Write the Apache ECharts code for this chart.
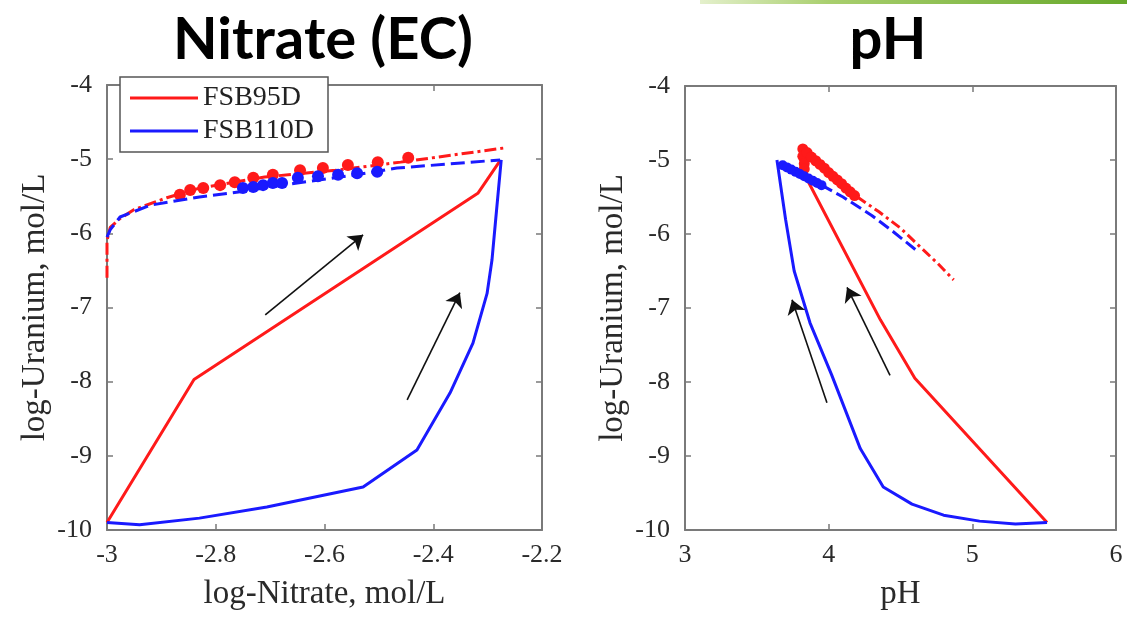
<!DOCTYPE html>
<html>
<head>
<meta charset="utf-8">
<script src="https://cdn.jsdelivr.net/npm/echarts@6/dist/echarts.min.js"></script>
<style>
html,body{margin:0;padding:0;background:#fff;}
#chart{width:1127px;height:618px;}
</style>
</head>
<body>
<div id="chart"></div>
<script>
// ---------- Tick labels ----------
const uraniumTicks = [-10, -9, -8, -7, -6, -5, -4];
const nitrateTicks = [-3, -2.8, -2.6, -2.4, -2.2];
const phTicks = [3, 4, 5, 6];

// ---------- Panel 1: Nitrate (EC) ----------
const nitRedLoopX = [-3.0, -2.84, -2.318, -2.277];
const nitRedLoopY = [-9.9, -7.97, -5.46, -5.02];
const nitBlueLoopX = [-3.0, -2.94, -2.83, -2.706, -2.529, -2.43, -2.369, -2.327, -2.301, -2.292, -2.285, -2.275];
const nitBlueLoopY = [-9.9, -9.93, -9.84, -9.69, -9.42, -8.92, -8.15, -7.48, -6.81, -6.36, -5.8, -5.01];
const nitRedSimX = [-3.0, -3.0, -2.994, -2.976, -2.95, -2.89, -2.83, -2.71, -2.58, -2.46, -2.39, -2.27];
const nitRedSimY = [-6.6, -6.1, -5.92, -5.8, -5.68, -5.52, -5.39, -5.24, -5.15, -5.04, -4.97, -4.85];
const nitBlueSimX = [-3.0, -2.994, -2.976, -2.92, -2.83, -2.755, -2.65, -2.55, -2.467, -2.277];
const nitBlueSimY = [-6.05, -5.95, -5.78, -5.62, -5.51, -5.44, -5.32, -5.22, -5.12, -5.01];
const nitRedObsX = [-2.866, -2.847, -2.823, -2.792, -2.765, -2.731, -2.695, -2.645, -2.603, -2.557, -2.502, -2.446];
const nitRedObsY = [-5.48, -5.415, -5.39, -5.35, -5.31, -5.25, -5.21, -5.15, -5.12, -5.08, -5.04, -4.98];
const nitBlueObsX = [-2.75, -2.731, -2.713, -2.695, -2.678, -2.649, -2.612, -2.575, -2.54, -2.503];
const nitBlueObsY = [-5.39, -5.375, -5.35, -5.32, -5.32, -5.25, -5.23, -5.21, -5.19, -5.17];
const nitArrows = [
  [[-2.709, -7.10], [-2.529, -6.02]],
  [[-2.448, -8.245], [-2.351, -6.80]]
];

// ---------- Panel 2: pH ----------
const phRedLoopX = [3.86, 4.36, 4.60, 5.52];
const phRedLoopY = [-5.3, -7.16, -7.95, -9.9];
const phBlueLoopX = [3.64, 3.70, 3.76, 3.87, 4.02, 4.22, 4.38, 4.58, 4.80, 5.05, 5.30, 5.52];
const phBlueLoopY = [-5.0, -5.8, -6.5, -7.2, -7.9, -8.9, -9.42, -9.65, -9.8, -9.88, -9.92, -9.9];
const phRedObsX = [3.82, 3.82, 3.83, 3.83, 3.85, 3.88, 3.91, 3.94, 3.97, 4.00, 4.03, 4.06, 4.09, 4.12, 4.15, 4.18];
const phRedObsY = [-4.85, -4.95, -5.05, -5.12, -4.90, -4.96, -5.01, -5.06, -5.11, -5.17, -5.22, -5.27, -5.32, -5.38, -5.43, -5.48];
const phRedSimX = [4.2, 4.35, 4.5, 4.64, 4.76, 4.87];
const phRedSimY = [-5.5, -5.7, -5.92, -6.18, -6.4, -6.62];
const phBlueObsX = [3.68, 3.71, 3.74, 3.77, 3.80, 3.83, 3.86, 3.89, 3.92, 3.95];
const phBlueObsY = [-5.07, -5.1, -5.13, -5.16, -5.19, -5.22, -5.25, -5.28, -5.31, -5.34];
const phBlueSimX = [3.95, 4.1, 4.3, 4.45, 4.61];
const phBlueSimY = [-5.34, -5.5, -5.75, -5.97, -6.22];
const phArrows = [
  [[3.988, -8.28], [3.745, -6.89]],
  [[4.427, -7.91], [4.128, -6.72]]
];

// ---------- Helpers ----------
const RED = '#ff1a1a', BLUE = '#1a1aff';
const SERIF = '"Liberation Serif", "DejaVu Serif", serif';
const AXC = '#7a7a7a';
const zip = (xs, ys) => xs.map((x, i) => [x, ys[i]]);
const fmt1 = v => String(+v.toFixed(1));

function xAxes(grid, ticks, name) {
  const min = ticks[0], max = ticks[ticks.length - 1], interval = +(ticks[1] - ticks[0]).toFixed(3);
  const common = {
    type: 'value', gridIndex: grid, min, max, interval,
    axisLine: {show: true, onZero: false, lineStyle: {color: AXC, width: 2}},
    axisTick: {show: true, inside: true, length: 6, lineStyle: {color: AXC, width: 1.5}},
    splitLine: {show: false}
  };
  return [
    Object.assign({}, common, {
      position: 'bottom',
      axisLabel: {show: true, formatter: fmt1, fontFamily: SERIF, fontSize: 26, color: '#2a2a2a', margin: 12, showMinLabel: true, showMaxLabel: true},
      name, nameLocation: 'middle', nameGap: 48,
      nameTextStyle: {fontFamily: SERIF, fontSize: 33, color: '#2a2a2a'}
    }),
    Object.assign({}, common, {position: 'top', axisLabel: {show: false}})
  ];
}
function yAxes(grid, ticks, name) {
  const min = ticks[0], max = ticks[ticks.length - 1], interval = ticks[1] - ticks[0];
  const common = {
    type: 'value', gridIndex: grid, min, max, interval,
    axisLine: {show: true, onZero: false, lineStyle: {color: AXC, width: 2}},
    axisTick: {show: true, inside: true, length: 6, lineStyle: {color: AXC, width: 1.5}},
    splitLine: {show: false}
  };
  return [
    Object.assign({}, common, {
      position: 'left',
      axisLabel: {show: true, fontFamily: SERIF, fontSize: 26, color: '#2a2a2a', margin: 15, showMinLabel: true, showMaxLabel: true},
      name, nameLocation: 'middle', nameGap: 55,
      nameTextStyle: {fontFamily: SERIF, fontSize: 33, color: '#2a2a2a'}
    }),
    Object.assign({}, common, {position: 'right', axisLabel: {show: false}})
  ];
}

function lineSeries(name, color, xi, yi, data, type, width, z) {
  return {
    name, type: 'line', xAxisIndex: xi, yAxisIndex: yi, data, color,
    showSymbol: false, symbol: 'none', smooth: false, silent: true, animation: false, z: z || 2,
    lineStyle: {color, width: width || 3, type: type || 'solid'}
  };
}
function dotSeries(name, color, xi, yi, data, size, z) {
  return {
    name, type: 'scatter', xAxisIndex: xi, yAxisIndex: yi, data, color,
    symbol: 'circle', symbolSize: size, silent: true, animation: false, z: z || 3,
    itemStyle: {color, opacity: 1}
  };
}
function arrowSeries(xi, yi, arrows) {
  return {
    name: 'arrows', type: 'lines', coordinateSystem: 'cartesian2d', xAxisIndex: xi, yAxisIndex: yi,
    data: arrows.map(c => ({coords: c})), symbol: ['none', 'arrow'], symbolSize: [0, 14],
    silent: true, animation: false, z: 5,
    lineStyle: {color: '#111', width: 1.6, opacity: 1}
  };
}

const chart = echarts.init(document.getElementById('chart'), null, {renderer: 'canvas'});
const option = {
  backgroundColor: '#fff',
  animation: false,
  grid: [
    {left: 107, top: 85, width: 435, height: 445, containLabel: false},
    {left: 685, top: 86, width: 431, height: 444, containLabel: false}
  ],
  xAxis: [].concat(xAxes(0, nitrateTicks, 'log-Nitrate, mol/L'), xAxes(1, phTicks, 'pH')),
  yAxis: [].concat(yAxes(0, uraniumTicks, 'log-Uranium, mol/L'), yAxes(1, uraniumTicks, 'log-Uranium, mol/L')),
  legend: {
    data: [{name: 'FSB95D', icon: 'rect'}, {name: 'FSB110D', icon: 'rect'}],
    orient: 'vertical', left: 120, top: 77,
    itemWidth: 68, itemHeight: 3, itemGap: 3,
    padding: [6, 14, 6, 10],
    backgroundColor: '#fff', borderColor: '#555', borderWidth: 1.5,
    textStyle: {fontFamily: SERIF, fontSize: 28, color: '#222', lineHeight: 30},
    selectedMode: false, z: 10
  },
  graphic: [
    {type: 'rect', shape: {x: 700, y: 0, width: 427, height: 4}, silent: true,
     style: {fill: new echarts.graphic.LinearGradient(0, 0, 1, 0, [
       {offset: 0, color: '#e4f0cc'}, {offset: 0.3, color: '#a9cf6e'}, {offset: 1, color: '#66a82a'}])}},
    {type: 'text', x: 323, y: 40, silent: true,
     style: {text: 'Nitrate (EC)', font: 'bold 58px Lato, "Open Sans", sans-serif', fill: '#000', textAlign: 'center', textVerticalAlign: 'middle'}},
    {type: 'text', x: 888, y: 40, silent: true,
     style: {text: 'pH', font: 'bold 58px Lato, "Open Sans", sans-serif', fill: '#000', textAlign: 'center', textVerticalAlign: 'middle'}}
  ],
  series: [
    // Panel 1
    lineSeries('FSB95D', RED, 0, 0, zip(nitRedLoopX, nitRedLoopY), 'solid', 3, 2),
    lineSeries('FSB110D', BLUE, 0, 0, zip(nitBlueLoopX, nitBlueLoopY), 'solid', 3, 2),
    lineSeries('FSB95D', RED, 0, 0, zip(nitRedSimX, nitRedSimY), [12, 4, 3, 4], 3, 2),
    dotSeries('FSB95D', RED, 0, 0, zip(nitRedObsX, nitRedObsY), 12, 3),
    lineSeries('FSB110D', BLUE, 0, 0, zip(nitBlueSimX, nitBlueSimY), [14, 6], 3, 4),
    dotSeries('FSB110D', BLUE, 0, 0, zip(nitBlueObsX, nitBlueObsY), 12, 4),
    arrowSeries(0, 0, nitArrows),
    // Panel 2
    lineSeries('FSB95D', RED, 2, 2, zip(phRedLoopX, phRedLoopY), 'solid', 3, 2),
    lineSeries('FSB110D', BLUE, 2, 2, zip(phBlueLoopX, phBlueLoopY), 'solid', 3, 2),
    lineSeries('FSB95D', RED, 2, 2, zip(phRedSimX, phRedSimY), [10, 4, 3, 4], 3, 2),
    dotSeries('FSB95D', RED, 2, 2, zip(phRedObsX, phRedObsY), 11, 3),
    lineSeries('FSB110D', BLUE, 2, 2, zip(phBlueSimX, phBlueSimY), [12, 5], 3, 4),
    dotSeries('FSB110D', BLUE, 2, 2, zip(phBlueObsX, phBlueObsY), 10, 4),
    arrowSeries(2, 2, phArrows)
  ]
};
chart.setOption(option);
</script>
</body>
</html>
